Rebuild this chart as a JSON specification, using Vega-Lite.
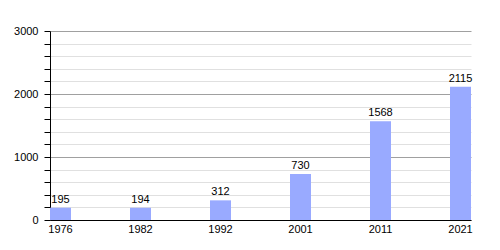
{
  "$schema": "https://vega.github.io/schema/vega-lite/v6.json",
  "width": 421,
  "height": 189,
  "autosize": "none",
  "padding": {"left": 50, "top": 31, "right": 29, "bottom": 30},
  "background": "white",
  "config": {"view": {"stroke": null}, "font": "Liberation Sans"},
  "data": {"values": [
    {"year": "1976", "pop": 195},
    {"year": "1982", "pop": 194},
    {"year": "1992", "pop": 312},
    {"year": "2001", "pop": 730},
    {"year": "2011", "pop": 1568},
    {"year": "2021", "pop": 2115}
  ]},
  "encoding": {
    "x": {"field": "year", "type": "ordinal", "sort": null,
      "scale": {"paddingInner": 0.7375, "paddingOuter": 0},
      "axis": {"title": null, "labelAngle": 0, "ticks": false, "domainColor": "black", "labelColor": "black", "labelFontSize": 11, "labelPadding": 3, "grid": false}},
    "y": {"field": "pop", "type": "quantitative",
      "scale": {"domain": [0, 3000], "nice": false},
      "axis": {"title": null, "values": [0,200,400,600,800,1000,1200,1400,1600,1800,2000,2200,2400,2600,2800,3000],
        "labelExpr": "datum.value % 1000 === 0 ? datum.label : ''",
        "format": "d",
        "grid": true,
        "gridColor": {"condition": {"test": "datum.value % 1000 === 0", "value": "#a0a0a0"}, "value": "#e0e0e0"},
        "domainColor": "black", "tickColor": "black", "tickSize": 6,
        "labelColor": "black", "labelFontSize": 11, "labelPadding": 6}}
  },
  "layer": [
    {"mark": {"type": "bar", "color": "#99aaff"}},
    {"mark": {"type": "text", "baseline": "bottom", "dy": -3, "fontSize": 11, "color": "black"},
      "encoding": {"text": {"field": "pop", "type": "quantitative"}}}
  ]
}
